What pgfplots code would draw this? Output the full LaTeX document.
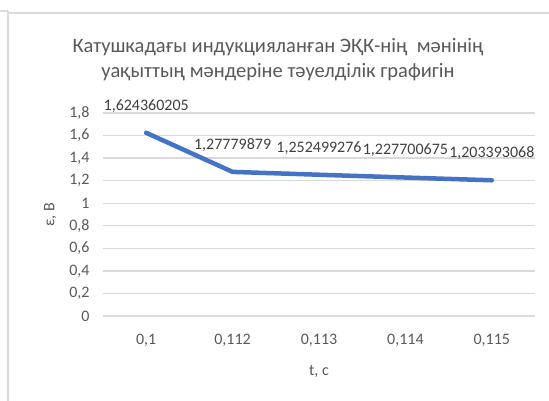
\documentclass[border=0pt]{standalone}
\usepackage{pgfplots}
\pgfplotsset{compat=1.18}
\usepackage{pgfplotstable}
\usepackage{fontspec}
\setmainfont{Carlito}
\definecolor{lineblue}{HTML}{4472C4}
\definecolor{gridgray}{HTML}{D9D9D9}
\definecolor{txtgray}{HTML}{595959}
\definecolor{lblgray}{HTML}{404040}
\definecolor{framegray}{HTML}{DADADA}
\pgfplotstableread{
x y lab
0 1.624360205 1,624360205
1 1.27779879 1,27779879
2 1.252499276 1,252499276
3 1.227700675 1,227700675
4 1.203393068 1,203393068
}\datatab
\begin{document}
\begin{tikzpicture}[x=1pt,y=1pt]
\path[use as bounding box] (0,0) rectangle (549,401);
\begin{axis}[
  at={(103pt,85pt)}, anchor=south west,
  scale only axis, width=432pt, height=203pt,
  xmin=-0.5, xmax=4.5, ymin=0, ymax=1.8,
  xtick={0,1,2,3,4},
  xticklabels={{0,1},{0,112},{0,113},{0,114},{0,115}},
  ytick={0,0.2,0.4,0.6,0.8,1,1.2,1.4,1.6,1.8},
  yticklabels={0,{0,2},{0,4},{0,6},{0,8},1,{1,2},{1,4},{1,6},{1,8}},
  ymajorgrids, major grid style={gridgray, line width=1.3pt},
  axis line style={draw=none},
  axis x line*=bottom,
  major tick length=0pt,
  tick label style={font=\fontsize{16}{18}\selectfont, text=txtgray},
  yticklabel style={xshift=-10pt},
  xticklabel style={yshift=-15pt},
  xlabel={t, с}, ylabel={ε, В},
  label style={font=\fontsize{16}{18}\selectfont, text=txtgray},
  xlabel style={yshift=-12pt},
  ylabel style={yshift=6pt},
  clip=false,
]
\draw[gridgray, line width=1.3pt] (axis cs:-0.5,0) -- (axis cs:4.5,0);
\addplot[lineblue, line width=4.5pt, line cap=round, line join=round,
  nodes near coords, point meta=explicit symbolic,
  every node near coord/.append style={font=\fontsize{16}{18}\selectfont, text=lblgray, anchor=center, yshift=27pt}]
  table[x=x, y=y, meta=lab]{\datatab};
\end{axis}
\node[font=\fontsize{20.5}{25}\selectfont, text=txtgray, align=center] at (278,341.5)
  {Катушкадағы индукцияланған ЭҚК-нің\ \ мәнінің\\уақыттың мәндеріне тәуелділік графигін};
\draw[framegray, line width=2pt] (0,390) -- (8,390);
\draw[framegray, line width=2pt] (7.5,390) -- (7.5,0);
\draw[framegray, line width=2pt] (8,388) -- (549,388);
\end{tikzpicture}
\end{document}
